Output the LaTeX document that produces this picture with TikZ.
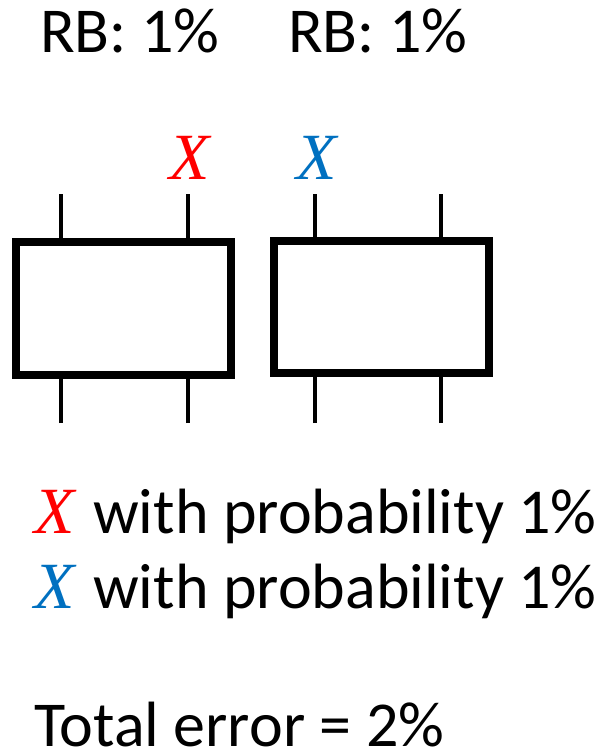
\documentclass[tikz,border=0pt]{standalone}
\usepackage{fontspec}
\setmainfont{Carlito}
\newfontfamily\xfont{Liberation Serif}
\definecolor{xred}{RGB}{255,0,0}
\definecolor{xblue}{RGB}{0,112,192}
\begin{document}
\begin{tikzpicture}[x=1pt,y=-1pt,
  gatebox/.style={draw=black,line width=7.5pt,minimum width=215pt,minimum height=133pt,inner sep=0pt,outer sep=0pt},
  leg/.style={line width=4.5pt},
  txt/.style={inner sep=0pt,anchor=base west,font=\fontsize{64}{76}\selectfont},
  xlab/.style={inner sep=0pt,anchor=base west,font=\fontsize{66}{76}\selectfont\xfont\itshape}]
\useasboundingbox (0,0) rectangle (601,753);
% top labels
\node[txt] (rb1) at (40,52) {RB: 1\%};
\node[txt] (rb2) at (288,52) {RB: 1\%};
% boxes
\node[gatebox] (b1) at (123.5,308.5) {};
\node[gatebox,minimum height=132pt] (b2) at (381.5,307) {};
% leg ends
\coordinate (t1) at (61,194);
\coordinate (t2) at (188,194);
\coordinate (t3) at (315,194);
\coordinate (t4) at (441,194);
\coordinate (d1) at (61,423);
\coordinate (d2) at (188,423);
\coordinate (d3) at (315,423);
\coordinate (d4) at (441,423);
\draw[leg] (t1) -- (t1 |- b1.north);
\draw[leg] (t2) -- (t2 |- b1.north);
\draw[leg] (t3) -- (t3 |- b2.north);
\draw[leg] (t4) -- (t4 |- b2.north);
\draw[leg] (d1) -- (d1 |- b1.south);
\draw[leg] (d2) -- (d2 |- b1.south);
\draw[leg] (d3) -- (d3 |- b2.south);
\draw[leg] (d4) -- (d4 |- b2.south);
% X labels on wires
\node[xlab,text=xred] (xr) at (169,179) {X};
\node[xlab,text=xblue] (xb) at (296,179) {X};
% legend
\node[xlab,text=xred] (lx1) at (34,533) {X};
\node[txt] (l1) at (93,533) {with probability 1\%};
\node[xlab,text=xblue] (lx2) at (34,608) {X};
\node[txt] (l2) at (93,608) {with probability 1\%};
\node[txt,text depth=0pt] (tot) at (34,746) {Total error = 2\%};
\end{tikzpicture}
\end{document}
